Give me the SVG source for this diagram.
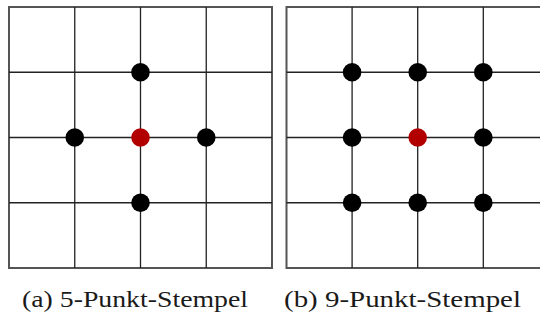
<svg xmlns="http://www.w3.org/2000/svg" width="540" height="320" viewBox="0 0 540 320">
<style>
.border{fill:none;stroke:#555;stroke-width:2}
.grid{stroke:#222;stroke-width:1.3;fill:none}
.dot{fill:#000;filter:url(#soft)}
.center{fill:#b20000;filter:url(#soft)}
.cap{font-family:'Liberation Serif','DejaVu Serif','Times New Roman',serif;font-size:24px;font-weight:normal;fill:#1a1a1a}
</style>
<defs>
<filter id="soft" x="-20%" y="-20%" width="140%" height="140%"><feGaussianBlur stdDeviation="0.6"/></filter>
</defs>
<rect width="540" height="320" fill="#fff"/>
<g id="connectors">
<g id="gridA">
<rect class="border" x="9" y="7" width="263" height="261"/>
<path class="grid" d="M74.75 7V268M140.5 7V268M206.25 7V268M9 72.25H272M9 137.5H272M9 202.75H272"/>
</g>
<g id="gridB">
<rect class="border" x="286.5" y="7" width="262.5" height="261"/>
<path class="grid" d="M352.1 7V268M417.7 7V268M483.3 7V268M286.5 72.25H549M286.5 137.5H549M286.5 202.75H549"/>
</g>
</g>
<g id="stencilA">
<circle id="a-n" class="dot" cx="140.5" cy="72.25" r="9.3"/>
<circle id="a-w" class="dot" cx="74.75" cy="137.5" r="9.3"/>
<circle id="a-c" class="center" cx="140.5" cy="137.5" r="9.3"/>
<circle id="a-e" class="dot" cx="206.25" cy="137.5" r="9.3"/>
<circle id="a-s" class="dot" cx="140.5" cy="202.75" r="9.3"/>
</g>
<g id="stencilB">
<circle id="b-nw" class="dot" cx="352.1" cy="72.25" r="9.3"/>
<circle id="b-n" class="dot" cx="417.7" cy="72.25" r="9.3"/>
<circle id="b-ne" class="dot" cx="483.3" cy="72.25" r="9.3"/>
<circle id="b-w" class="dot" cx="352.1" cy="137.5" r="9.3"/>
<circle id="b-c" class="center" cx="417.7" cy="137.5" r="9.3"/>
<circle id="b-e" class="dot" cx="483.3" cy="137.5" r="9.3"/>
<circle id="b-sw" class="dot" cx="352.1" cy="202.75" r="9.3"/>
<circle id="b-s" class="dot" cx="417.7" cy="202.75" r="9.3"/>
<circle id="b-se" class="dot" cx="483.3" cy="202.75" r="9.3"/>
</g>
<g id="captions">
<text class="cap" x="22" y="307" textLength="226" lengthAdjust="spacingAndGlyphs">(a) 5-Punkt-Stempel</text>
<text class="cap" x="284" y="307" textLength="237" lengthAdjust="spacingAndGlyphs">(b) 9-Punkt-Stempel</text>
</g>
</svg>
